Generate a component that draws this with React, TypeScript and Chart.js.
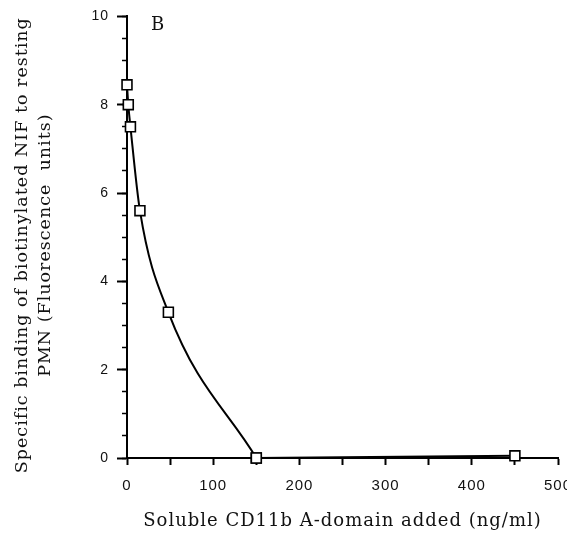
import React, { useEffect, useRef } from "react";
import { Chart, registerables } from "chart.js";

Chart.register(...registerables);

// Data
const doseValues: number[] = [0, 1.5, 4, 15, 48, 150, 450]; // ng/ml
const bindingValues: number[] = [8.45, 8.0, 7.5, 5.6, 3.3, 0.0, 0.05]; // fluorescence units
const curveEndIndex = 5; // smooth curve up to 150 ng/ml, straight afterwards
const xTickStep = 50;
const xLabelStep = 100;
const yTickStep = 2;
const yMinorStep = 0.5;
const xTitle = "Soluble CD11b A-domain added (ng/ml)";
const yTitleLines: string[] = [
  "Specific binding of biotinylated NIF to resting",
  "PMN (Fluorescence  units)",
];
const panelLabel = "B";

const serif = "'DejaVu Serif', serif";
const sans = "'Liberation Sans', Arial, sans-serif";

const spacingPlugin = {
  id: "letterSpacing",
  beforeUpdate(chart: any) {
    (chart.ctx as any).letterSpacing = "1px";
  },
  beforeDraw(chart: any) {
    (chart.ctx as any).letterSpacing = "1px";
  },
};

const titlePlugin = {
  id: "yTitleAndPanel",
  afterDraw(chart: any) {
    const ctx = chart.ctx as CanvasRenderingContext2D;
    const area = chart.chartArea;
    const cy = (area.top + area.bottom) / 2 + 8;
    ctx.save();
    (ctx as any).letterSpacing = "1px";
    ctx.fillStyle = "#111";
    ctx.font = `17.5px ${serif}`;
    ctx.textAlign = "center";
    ctx.textBaseline = "middle";
    const xs = [22, 45];
    yTitleLines.forEach((line, i) => {
      ctx.save();
      ctx.translate(xs[i], cy);
      ctx.rotate(-Math.PI / 2);
      ctx.fillText(line, 0, 0);
      ctx.restore();
    });
    const sx = chart.scales.x.getPixelForValue(36);
    const sy = chart.scales.y.getPixelForValue(9.8);
    ctx.font = `18px ${serif}`;
    ctx.textAlign = "center";
    ctx.fillText(panelLabel, sx, sy);
    ctx.restore();
  },
};

const points = doseValues.map((x, i) => ({ x, y: bindingValues[i] }));

const common = {
  borderColor: "#000",
  borderWidth: 2,
  fill: false,
  pointStyle: "rect",
  pointRadius: 7,
  pointBackgroundColor: "#fff",
  pointBorderColor: "#000",
  pointBorderWidth: 1.6,
  clip: false,
  xAxisID: "x",
  yAxisID: "y",
};

export default function App() {
  const ref = useRef<HTMLCanvasElement | null>(null);

  useEffect(() => {
    if (!ref.current) return;
    const chart = new Chart(ref.current, {
      type: "line",
      data: {
        datasets: [
          {
            ...common,
            data: points.slice(curveEndIndex),
            tension: 0,
          } as any,
          {
            ...common,
            data: points.slice(0, curveEndIndex + 1),
            cubicInterpolationMode: "monotone",
          } as any,
        ],
      },
      options: {
        animation: false,
        responsive: false,
        layout: { padding: { left: 0, right: 9, top: 15, bottom: 0 } },
        plugins: {
          legend: { display: false },
          tooltip: { enabled: false },
        },
        scales: {
          x: {
            type: "linear",
            position: "bottom",
            min: 0,
            max: 500,
            afterFit(s: any) {
              s.height = 77;
              s.paddingLeft = 0;
              s.paddingRight = 0;
            },
            ticks: {
              stepSize: xTickStep,
              autoSkip: false,
              maxRotation: 0,
              color: "#111",
              padding: 12,
              font: { family: sans, size: 15 },
              callback: (v: any) => (Number(v) % xLabelStep === 0 ? String(v) : ""),
            },
            grid: {
              drawOnChartArea: false,
              drawTicks: true,
              tickLength: 7,
              tickColor: "#000",
              tickWidth: 2,
            },
            border: { display: true, color: "#000", width: 2 },
            title: {
              display: true,
              text: xTitle,
              color: "#111",
              font: { family: serif, size: 18 },
              padding: { top: 0, bottom: 3 },
            },
          },
          y: {
            type: "linear",
            position: "left",
            min: 0,
            max: 10,
            weight: 1,
            afterFit(s: any) {
              s.width = 127;
            },
            ticks: {
              stepSize: yTickStep,
              color: "#111",
              padding: 8,
              font: { family: sans, size: 14 },
            },
            grid: {
              drawOnChartArea: false,
              drawTicks: true,
              tickLength: 10,
              tickColor: "#000",
              tickWidth: 2,
            },
            border: { display: true, color: "#000", width: 2 },
          },
          y2: {
            type: "linear",
            position: "left",
            min: 0,
            max: 10,
            weight: 0,
            afterFit(s: any) {
              s.width = 0;
            },
            ticks: { stepSize: yMinorStep, display: false },
            grid: {
              drawOnChartArea: false,
              drawTicks: true,
              tickLength: 5,
              tickColor: "#000",
              tickWidth: 1.5,
            },
            border: { display: false },
          },
        },
      } as any,
      plugins: [spacingPlugin, titlePlugin],
    });
    return () => chart.destroy();
  }, []);

  return (
    <div style={{ position: "absolute", left: 0, top: 0, width: 567, height: 535, background: "#fff" }}>
      <canvas ref={ref} width={567} height={535} style={{ display: "block" }} />
    </div>
  );
}
